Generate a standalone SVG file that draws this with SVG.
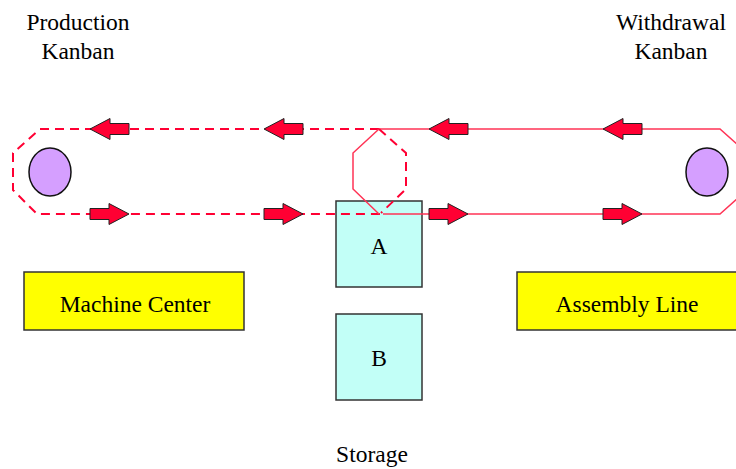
<svg xmlns="http://www.w3.org/2000/svg" width="736" height="469" viewBox="0 0 736 469">
  <defs>
    <!-- block arrow pointing left, tip at origin -->
    <path id="arrowL" d="M0,0 L20,-10.5 L20,-5.5 L39,-5.5 L39,5.5 L20,5.5 L20,10.5 Z"/>
    <!-- block arrow pointing right, tip at origin -->
    <path id="arrowR" d="M0,0 L-20,-10.5 L-20,-5.5 L-39,-5.5 L-39,5.5 L-20,5.5 L-20,10.5 Z"/>
  </defs>
  <style>
    .label { font-family: "Liberation Serif", "Times New Roman", serif; font-size: 23.5px; fill: #000; text-anchor: middle; }
    .dash { fill: none; stroke: #FF0033; stroke-width: 2; stroke-dasharray: 9 6; }
    .solid { fill: none; stroke: #FF3355; stroke-width: 1.5; }
    .arrow { fill: #FF0033; stroke: #222; stroke-width: 1; stroke-linejoin: miter; }
    .kanban { fill: #D59FFF; stroke: #111; stroke-width: 1.5; }
    .bin { fill: #C2FFF7; stroke: #333; stroke-width: 1.5; }
    .station { fill: #FFFF00; stroke: #333; stroke-width: 1.5; }
  </style>

  <rect width="736" height="469" fill="#fff"/>

  <!-- headings -->
  <g id="production-kanban-label">
    <text class="label" x="78" y="30">Production</text>
    <text class="label" x="78" y="59">Kanban</text>
  </g>
  <g id="withdrawal-kanban-label">
    <text class="label" x="671" y="30">Withdrawal</text>
    <text class="label" x="671" y="59">Kanban</text>
  </g>

  <g id="bin-a">
    <rect class="bin" x="336" y="201" width="86" height="86"/>
    <text class="label" x="379" y="254">A</text>
  </g>
  <g id="bin-b">
    <rect class="bin" x="336" y="314" width="86" height="86"/>
    <text class="label" x="379" y="366">B</text>
  </g>

  <!-- kanban card loops -->
  <g id="connectors">
    <!-- production loop (dashed) -->
    <path class="dash" d="M379,129 L40,129 L13,153 L13,190 L37,214 L383,214"/>
    <!-- withdrawal loop (solid) -->
    <path class="solid" d="M379,129 L720,129 L738,145"/>
    <path class="solid" d="M383,214 L720,214 L738,198"/>
    <!-- storage exchange loop -->
    <path class="solid" d="M379,129 L353,153 L353,189 L379,214"/>
    <path class="dash" d="M379,129 L406,153 L406,189 L381,213"/>

    <!-- top arrows (leftward) -->
    <use href="#arrowL" class="arrow" x="90" y="129"/>
    <use href="#arrowL" class="arrow" x="264" y="129"/>
    <use href="#arrowL" class="arrow" x="429" y="129"/>
    <use href="#arrowL" class="arrow" x="603" y="129"/>
    <!-- bottom arrows (rightward) -->
    <use href="#arrowR" class="arrow" x="129" y="214"/>
    <use href="#arrowR" class="arrow" x="303" y="214"/>
    <use href="#arrowR" class="arrow" x="468" y="214"/>
    <use href="#arrowR" class="arrow" x="642" y="214"/>
  </g>

  <g id="production-card">
    <ellipse class="kanban" cx="50" cy="172" rx="21" ry="24"/>
  </g>
  <g id="withdrawal-card">
    <ellipse class="kanban" cx="707" cy="172" rx="21" ry="24"/>
  </g>

  <g id="machine-center">
    <rect class="station" x="24" y="272" width="220" height="58"/>
    <text class="label" x="135" y="312">Machine Center</text>
  </g>
  <g id="assembly-line">
    <rect class="station" x="517" y="272" width="230" height="58"/>
    <text class="label" x="627" y="312">Assembly Line</text>
  </g>

  <g id="storage-label">
    <text class="label" x="372" y="462">Storage</text>
  </g>
</svg>
